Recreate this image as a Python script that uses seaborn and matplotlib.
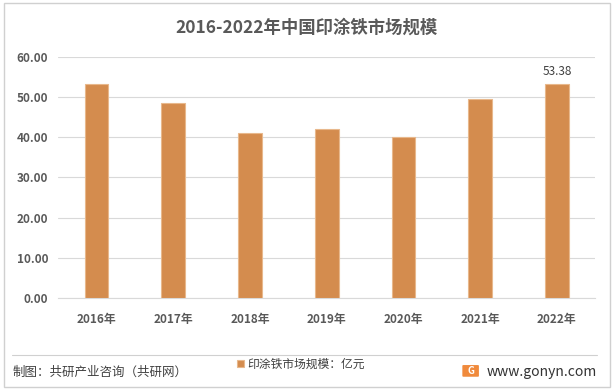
import matplotlib
matplotlib.use('Agg')
import matplotlib.pyplot as plt
import seaborn as sns
import pandas as pd
from matplotlib.patches import Rectangle, FancyBboxPatch

years = ['2016年', '2017年', '2018年', '2019年', '2020年', '2021年', '2022年']
values = [53.2, 48.5, 41.1, 42.1, 40.1, 49.5, 53.38]
series_name = '印涂铁市场规模：亿元'

sns.set_style('white')
plt.rcParams['font.family'] = ['Noto Sans CJK SC', 'DejaVu Sans']

df = pd.DataFrame({'year': years, 'value': values})

fig = plt.figure(figsize=(6.14, 3.9), dpi=100)
ax = fig.add_axes([0.0945, 0.236, 0.875, 0.618])

bar_color = '#D48C4E'
sns.barplot(data=df, x='year', y='value', color=bar_color, width=0.31,
            edgecolor='#E8B88C', linewidth=0.8, ax=ax, label=series_name,
            saturation=1, zorder=3)

ax.set_ylim(0, 60)
ax.set_yticks(range(0, 61, 10))
ax.set_yticklabels([f'{v:.2f}' for v in range(0, 61, 10)])
ax.yaxis.grid(True, color='#D9D9D9', linewidth=0.8, zorder=0)
ax.set_xlabel('')
ax.set_ylabel('')
for s in ax.spines.values():
    s.set_visible(False)
ax.spines['bottom'].set_visible(True)
ax.spines['bottom'].set_color('#D9D9D9')
ax.tick_params(axis='both', length=0, labelsize=8.5, colors='#595959')
ax.tick_params(axis='x', pad=11)
ax.tick_params(axis='y', pad=7)
for lab in ax.get_xticklabels() + ax.get_yticklabels():
    lab.set_fontweight('bold')

# label last bar only
ax.text(6, values[-1] + 1.5, f'{values[-1]:.2f}', ha='center', va='bottom',
        fontsize=8.5, color='#404040')

fig.text(0.5, 0.928, '2016-2022年中国印涂铁市场规模', ha='center', va='center',
         fontsize=12.5, fontweight='bold', color='#595959')

# outer border and footer separator
fig.patches.append(Rectangle((0.006, 0.008), 0.988, 0.984, transform=fig.transFigure,
                             fill=False, edgecolor='#D0D0D0', linewidth=1))
fig.lines.append(plt.Line2D([0.02, 0.972], [0.09, 0.09], transform=fig.transFigure,
                            color='#D0D0D0', linewidth=0.8))

fig.text(0.02, 0.045, '制图：共研产业咨询（共研网）', ha='left', va='center',
         fontsize=9, color='#404040')

leg = ax.legend(loc='center', bbox_to_anchor=(0.49, 0.066), bbox_transform=fig.transFigure,
                frameon=False, fontsize=8.5, handlelength=0.6, handleheight=0.6,
                handletextpad=0.3)
for t in leg.get_texts():
    t.set_color('#404040')

# logo and site
fig.patches.append(FancyBboxPatch((0.755, 0.036), 0.023, 0.026, transform=fig.transFigure,
                                  boxstyle='round,pad=0.002', facecolor='#F08A3C',
                                  edgecolor='none'))
fig.text(0.7665, 0.049, 'G', ha='center', va='center', fontsize=7,
         fontweight='bold', color='white')
fig.text(0.972, 0.047, 'www.gonyn.com', ha='right', va='center',
         fontsize=10, color='#333333')

fig.savefig('out.png', dpi=100)
